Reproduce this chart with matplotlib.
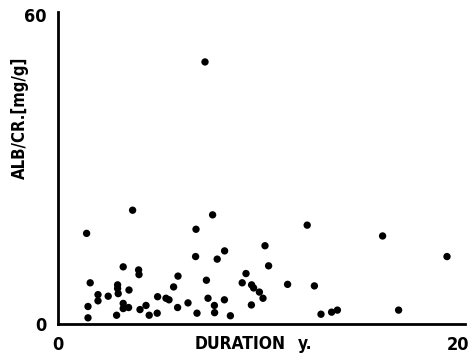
import matplotlib
matplotlib.use("Agg")
import matplotlib.pyplot as plt

# duration (years) vs albumin/creatinine ratio (mg/g)
duration = [7.35, 3.73, 1.43, 6.9, 6.88, 1.61, 3.26, 4.03, 4.05, 6.0,
            5.78, 2.98, 2.98, 3.01, 3.55, 2.0, 2.0, 2.51, 1.5, 1.5,
            3.26, 3.26, 3.53, 4.1, 4.4, 2.93, 4.56, 4.98, 5.4, 5.55,
            4.96, 5.98, 6.5, 6.95, 7.73, 12.46, 8.33, 7.96, 10.35, 10.53,
            9.4, 7.42, 9.21, 9.68, 9.78, 10.07, 10.25, 11.48, 12.82, 7.5,
            8.32, 7.82, 7.83, 8.62, 9.67, 13.15, 13.68, 13.97, 17.03, 16.23,
            19.45]
alb_cr = [50.9, 22.1, 17.6, 18.4, 13.1, 8.0, 11.1, 10.5, 9.6, 9.3,
          7.2, 7.6, 6.9, 5.9, 6.6, 5.7, 4.5, 5.4, 3.4, 1.2,
          4.0, 3.0, 3.2, 2.8, 3.6, 1.7, 1.7, 5.3, 5.0, 4.7,
          2.1, 3.2, 4.1, 2.1, 21.2, 19.2, 14.2, 12.6, 15.2, 11.3,
          9.8, 8.5, 8.0, 7.6, 7.0, 6.2, 5.0, 7.7, 7.4, 5.0,
          4.7, 3.6, 2.2, 1.6, 3.7, 1.9, 2.3, 2.7, 2.7, 17.1,
          13.1]

x_ticks = [0, 20]
y_ticks = [0, 60]

bold_font = dict(family=["DejaVu Sans Condensed", "Liberation Sans Narrow", "DejaVu Sans"],
                 fontweight="bold", fontstretch="condensed")

fig = plt.figure(figsize=(4.72, 3.59), dpi=100)
ax = fig.add_axes([58 / 472, 1 - 324 / 359, (465 - 58) / 472, (324 - 12) / 359])

ax.scatter(duration, alb_cr, s=28, color="black", edgecolors="none", zorder=3)

ax.set_xlim(0, 20.35)
ax.set_ylim(0, 60.6)
for side in ["top", "right"]:
    ax.spines[side].set_visible(False)
for side in ["left", "bottom"]:
    ax.spines[side].set_linewidth(2)

ax.set_xticks(x_ticks)
ax.set_yticks(y_ticks)
ax.set_xticklabels([str(t) for t in x_ticks], fontsize=13, **bold_font)
ax.set_yticklabels([str(t) for t in y_ticks], fontsize=13, **bold_font)
ax.tick_params(axis="x", length=0, pad=9)
ax.tick_params(axis="y", length=0, pad=8)

# x label: word and unit sit apart in the original
fig.text(240 / 472, 1 - 344 / 359, "DURATION", ha="center", va="center",
         fontsize=12.5, **bold_font)
fig.text(305 / 472, 1 - 344 / 359, "y.", ha="center", va="center",
         fontsize=12.5, **bold_font)
fig.text(20 / 472, 1 - 118 / 359, "ALB/CR.[mg/g]", ha="center", va="center",
         rotation=90, fontsize=12, **bold_font)

fig.savefig("out.png", dpi=100)
